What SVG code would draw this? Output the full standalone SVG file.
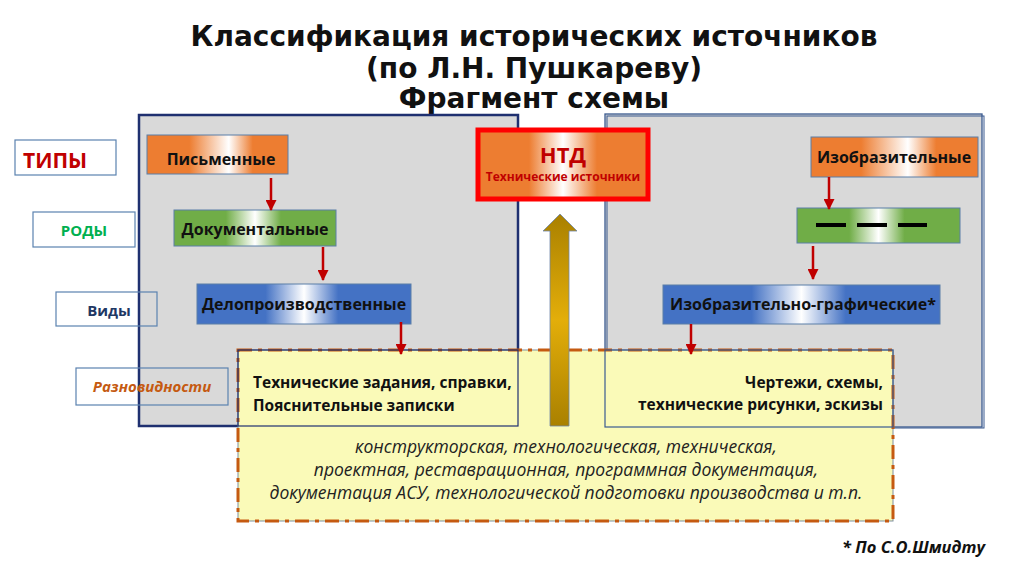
<svg xmlns="http://www.w3.org/2000/svg" width="1024" height="576" viewBox="0 0 1024 576">
<defs>
<linearGradient id="gOr" x1="0" y1="0" x2="1" y2="0">
<stop offset="0" stop-color="#ED7D31"/><stop offset="0.3" stop-color="#ED7D31"/><stop offset="0.58" stop-color="#FFFFFF"/><stop offset="0.75" stop-color="#ED7D31"/><stop offset="1" stop-color="#ED7D31"/>
</linearGradient>
<linearGradient id="gGr" x1="0" y1="0" x2="1" y2="0">
<stop offset="0" stop-color="#70AD47"/><stop offset="0.32" stop-color="#70AD47"/><stop offset="0.5" stop-color="#FFFFFF"/><stop offset="0.66" stop-color="#70AD47"/><stop offset="1" stop-color="#70AD47"/>
</linearGradient>
<linearGradient id="gBl" x1="0" y1="0" x2="1" y2="0">
<stop offset="0" stop-color="#4472C4"/><stop offset="0.32" stop-color="#4472C4"/><stop offset="0.5" stop-color="#FFFFFF"/><stop offset="0.66" stop-color="#4472C4"/><stop offset="1" stop-color="#4472C4"/>
</linearGradient>
<linearGradient id="gNtd" x1="0" y1="0" x2="1" y2="0">
<stop offset="0" stop-color="#ED7D31"/><stop offset="0.3" stop-color="#ED7D31"/><stop offset="0.5" stop-color="#FFFFFF"/><stop offset="0.7" stop-color="#ED7D31"/><stop offset="1" stop-color="#ED7D31"/>
</linearGradient>
<linearGradient id="gArr" x1="0" y1="0" x2="0" y2="1">
<stop offset="0" stop-color="#A98000"/><stop offset="0.5" stop-color="#E3AE0A"/><stop offset="1" stop-color="#A98000"/>
</linearGradient>
<marker id="ah" viewBox="0 0 10 10" refX="9" refY="5" markerWidth="12" markerHeight="11" orient="auto" markerUnits="userSpaceOnUse">
<path d="M0,0 L10,5 L0,10 z" fill="#C00000"/>
</marker>
<style>
.lbl{fill:none;stroke:#5B82B0;stroke-width:1.2}
.node{stroke:#5B7FA8;stroke-width:1}
.t{font-family:"Open Sans","DejaVu Sans",sans-serif;font-weight:bold;font-size:15.5px;fill:#111}
.tn{font-family:"Open Sans","DejaVu Sans",sans-serif;font-weight:bold;font-size:16px;fill:#111}
.it{font-family:"Open Sans","DejaVu Sans",sans-serif;font-style:italic;font-size:17.5px;fill:#222}
.con{stroke:#C00000;stroke-width:2.5;fill:none}
</style>
</defs>
<rect width="1024" height="576" fill="#FFFFFF"/>

<g id="title" font-family="DejaVu Sans, sans-serif" font-weight="bold" font-size="28" fill="#111" text-anchor="middle">
<text x="534" y="46">Классификация исторических источников</text>
<text x="534" y="78">(по Л.Н. Пушкареву)</text>
<text x="534" y="108">Фрагмент схемы</text>
</g>

<g id="panel-left"><rect x="139" y="115" width="379" height="311" fill="#D9D9D9" stroke="#1F3070" stroke-width="2.5"/></g>
<g id="panel-right"><rect x="605" y="114" width="377" height="313" fill="#D9D9D9" stroke="#3A5A90" stroke-width="1.3"/>
<rect x="607" y="116" width="377" height="312" fill="none" stroke="#3A5A90" stroke-width="1"/></g>

<g id="label-tipy"><rect class="lbl" x="15" y="140" width="101" height="35"/>
<text x="23" y="168" font-family="Open Sans, sans-serif" font-weight="bold" font-size="21" fill="#C00000">ТИПЫ</text></g>
<g id="label-rody"><rect class="lbl" x="33" y="212" width="102" height="35"/>
<text x="84" y="236" text-anchor="middle" font-family="Open Sans, sans-serif" font-weight="bold" font-size="15" fill="#00B050">РОДЫ</text></g>
<g id="label-vidy"><rect class="lbl" x="56" y="292" width="101" height="34"/>
<text x="109" y="316" text-anchor="middle" font-family="Open Sans, sans-serif" font-weight="bold" font-size="15" fill="#1F3864">Виды</text></g>

<g id="yellow-box">
<rect x="238" y="350" width="655" height="171" fill="#FAFAB8" stroke="#7F8FA0" stroke-width="1"/>
<rect x="238" y="350" width="655" height="171" fill="none" stroke="#C55A11" stroke-width="3" stroke-dasharray="14,6,4,6"/>
</g>
<g id="label-raznovidnosti"><rect class="lbl" x="76" y="368" width="152" height="37"/>
<text x="152" y="392" text-anchor="middle" font-family="Open Sans, sans-serif" font-weight="bold" font-style="italic" font-size="15" fill="#C55A11">Разновидности</text></g>

<g id="var-left"><rect x="238" y="350" width="280" height="76" fill="none" stroke="#1F3070" stroke-width="1.2"/>
<text class="t" x="253" y="388">Технические задания, справки,</text>
<text class="t" x="253" y="411">Пояснительные записки</text></g>
<g id="var-right"><rect x="605" y="350" width="288" height="77" fill="none" stroke="#3A5A90" stroke-width="1.2"/>
<text class="t" x="883" y="388" text-anchor="end">Чертежи, схемы,</text>
<text class="t" x="883" y="410" text-anchor="end">технические рисунки, эскизы</text></g>

<g id="big-arrow"><path d="M550,426 L550,231 L543,231 L560,214 L577,231 L569,231 L569,426 Z" fill="url(#gArr)" stroke="#6F86A8" stroke-width="0.8"/></g>

<g id="var-common">
<text class="it" x="566" y="453" text-anchor="middle">конструкторская, технологическая, техническая,</text>
<text class="it" x="566" y="476" text-anchor="middle">проектная, реставрационная, программная документация,</text>
<text class="it" x="566" y="499" text-anchor="middle">документация АСУ, технологической подготовки производства и т.п.</text>
</g>

<g id="ntd"><rect x="478" y="130" width="170" height="69" fill="url(#gNtd)" stroke="#FF0000" stroke-width="5"/>
<text x="563" y="163" text-anchor="middle" font-family="Open Sans, sans-serif" font-weight="bold" font-size="22" fill="#C00000">НТД</text>
<text x="563" y="181" text-anchor="middle" font-family="Open Sans, sans-serif" font-weight="bold" font-size="12" fill="#C00000">Технические источники</text></g>

<g id="pismennye"><rect class="node" x="147" y="135" width="141" height="39" fill="url(#gOr)"/>
<text class="tn" x="221" y="165" text-anchor="middle">Письменные</text></g>
<g id="dokumentalnye"><rect class="node" x="174" y="210" width="162" height="36" fill="url(#gGr)"/>
<text class="tn" x="255" y="235" text-anchor="middle">Документальные</text></g>
<g id="deloproizvodstvennye"><rect class="node" x="197" y="284" width="214" height="40" fill="url(#gBl)"/>
<text class="tn" x="304" y="310" text-anchor="middle">Делопроизводственные</text></g>

<g id="izobrazitelnye"><rect class="node" x="811" y="137" width="167" height="40" fill="url(#gOr)"/>
<text class="tn" x="894" y="163" text-anchor="middle">Изобразительные</text></g>
<g id="rod-unknown"><rect class="node" x="797" y="208" width="163" height="35" fill="url(#gGr)"/>
<g stroke="#000" stroke-width="4"><line x1="816" y1="225" x2="846" y2="225"/><line x1="857" y1="225" x2="887" y2="225"/><line x1="898" y1="225" x2="927" y2="225"/></g></g>
<g id="izobr-graficheskie"><rect class="node" x="663" y="285" width="277" height="39" fill="url(#gBl)"/>
<text class="tn" x="803" y="310" text-anchor="middle">Изобразительно-графические*</text></g>

<g id="connectors">
<line class="con" x1="271" y1="178" x2="271" y2="210" marker-end="url(#ah)"/>
<line class="con" x1="323" y1="247" x2="323" y2="280" marker-end="url(#ah)"/>
<line class="con" x1="401" y1="322" x2="401" y2="354" marker-end="url(#ah)"/>
<line class="con" x1="829" y1="177" x2="829" y2="209" marker-end="url(#ah)"/>
<line class="con" x1="813" y1="246" x2="813" y2="279" marker-end="url(#ah)"/>
<line class="con" x1="691" y1="324" x2="691" y2="354" marker-end="url(#ah)"/>
</g>

<g id="footnote"><text x="985" y="553" text-anchor="end" font-family="Open Sans, sans-serif" font-weight="bold" font-style="italic" font-size="16.5" fill="#111">* По С.О.Шмидту</text></g>
</svg>
